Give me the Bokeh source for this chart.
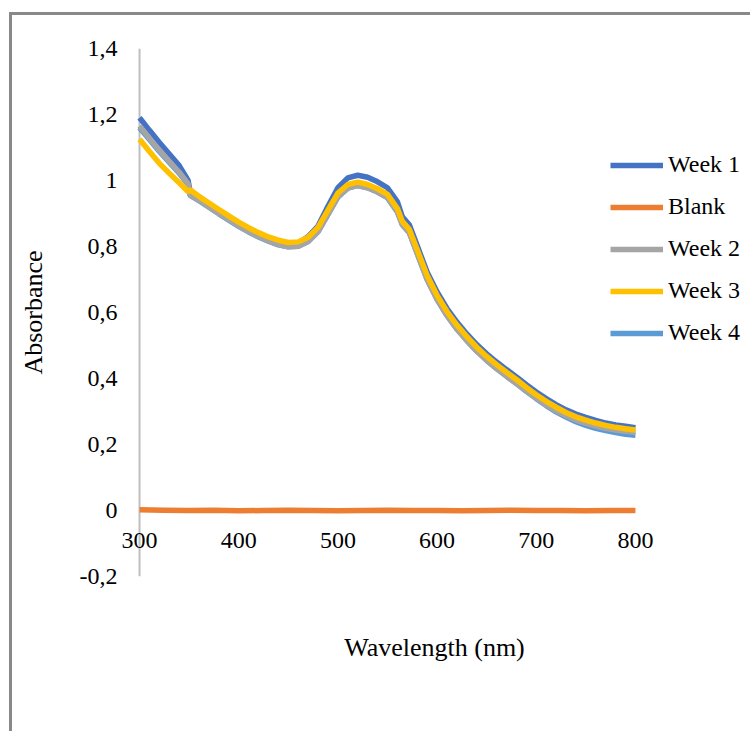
from bokeh.plotting import figure
from bokeh.models import (Range1d, FixedTicker, CustomJSTickFormatter, Legend, LegendItem,
                          Label, Span)
from bokeh.embed import file_html
from bokeh.resources import INLINE

# ---------------- data ----------------
wavelength = [300, 310, 320, 330, 340, 349, 351, 360, 370, 380, 390, 400, 410, 420, 430, 440,
              450, 460, 470, 480, 490, 500, 510, 520, 530, 540, 550, 560, 565, 572, 580, 590,
              600, 610, 620, 630, 640, 650, 660, 670, 680, 690, 700, 710, 720, 730, 740, 750,
              760, 770, 780, 790, 800]

week1 = [1.190, 1.152, 1.115, 1.080, 1.045, 1.000, 0.965, 0.948, 0.928, 0.908, 0.889, 0.870,
         0.853, 0.838, 0.825, 0.815, 0.808, 0.810, 0.830, 0.862, 0.922, 0.978, 1.008, 1.016,
         1.010, 0.996, 0.978, 0.935, 0.890, 0.866, 0.802, 0.722, 0.662, 0.612, 0.571, 0.535,
         0.503, 0.475, 0.450, 0.427, 0.405, 0.381, 0.359, 0.339, 0.321, 0.305, 0.292, 0.282,
         0.273, 0.265, 0.259, 0.255, 0.251]

week2 = [1.165, 1.128, 1.092, 1.058, 1.025, 0.990, 0.955, 0.940, 0.920, 0.900, 0.881, 0.862,
         0.845, 0.830, 0.817, 0.806, 0.799, 0.801, 0.815, 0.845, 0.897, 0.950, 0.977, 0.985,
         0.978, 0.965, 0.948, 0.905, 0.866, 0.842, 0.779, 0.700, 0.640, 0.591, 0.550, 0.515,
         0.483, 0.455, 0.430, 0.407, 0.385, 0.362, 0.340, 0.320, 0.302, 0.287, 0.274, 0.264,
         0.256, 0.249, 0.244, 0.240, 0.236]

week3 = [1.125, 1.088, 1.052, 1.022, 0.993, 0.966, 0.972, 0.952, 0.932, 0.912, 0.893, 0.874,
         0.857, 0.842, 0.829, 0.819, 0.812, 0.814, 0.828, 0.858, 0.910, 0.962, 0.988, 0.995,
         0.988, 0.975, 0.958, 0.915, 0.876, 0.852, 0.790, 0.712, 0.652, 0.603, 0.562, 0.527,
         0.495, 0.467, 0.442, 0.419, 0.397, 0.373, 0.351, 0.331, 0.313, 0.297, 0.284, 0.274,
         0.265, 0.258, 0.252, 0.248, 0.244]

week4 = [1.160, 1.124, 1.088, 1.055, 1.022, 0.988, 0.955, 0.939, 0.919, 0.899, 0.880, 0.861,
         0.844, 0.829, 0.816, 0.805, 0.799, 0.801, 0.815, 0.845, 0.897, 0.950, 0.977, 0.985,
         0.978, 0.965, 0.948, 0.905, 0.866, 0.842, 0.779, 0.700, 0.640, 0.591, 0.550, 0.515,
         0.483, 0.455, 0.430, 0.407, 0.385, 0.361, 0.339, 0.318, 0.299, 0.283, 0.269, 0.258,
         0.249, 0.242, 0.236, 0.231, 0.228]

blank_wavelength = [300, 325, 350, 375, 400, 425, 450, 475, 500, 525, 550, 575, 600, 625,
                    650, 675, 700, 725, 750, 775, 800]
blank = [0.002, 0.001, 0.000, 0.001, -0.001, 0.000, 0.001, 0.000, -0.001, 0.000, 0.001,
         0.000, 0.000, -0.001, 0.000, 0.001, 0.000, 0.000, -0.001, 0.000, 0.000]

x_ticks = [300, 400, 500, 600, 700, 800]
y_ticks = [-0.2, 0, 0.2, 0.4, 0.6, 0.8, 1.0, 1.2, 1.4]

series_names = ["Week 1", "Blank", "Week 2", "Week 3", "Week 4"]
colors = {"Week 1": "#4472C4", "Blank": "#ED7D31", "Week 2": "#A5A5A5",
          "Week 3": "#FFC000", "Week 4": "#5B9BD5"}

FONT = "Liberation Serif"
TICK_SIZE = "24px"
TITLE_SIZE = "26px"

# ---------------- figure ----------------
# the frame starts a little left of 300 nm so the "300" tick label is not cut
p = figure(width=750, height=731, output_backend="svg", toolbar_location=None,
           x_range=Range1d(278.8, 916), y_range=Range1d(-0.2, 1.4),
           min_border_left=118, min_border_right=0, min_border_top=48, min_border_bottom=155)
p.outline_line_color = None
p.background_fill_color = "white"
p.border_fill_alpha = 0
p.styles = {
    "background": ("linear-gradient(#898989, #898989) 9px 12px / 3px 2000px no-repeat, "
                   "linear-gradient(#898989, #898989) 9px 12px / 2000px 3px no-repeat, #FFFFFF")
}
p.xgrid.visible = False
p.ygrid.visible = False

# bottom axis only carries the axis title
xa = p.xaxis[0]
xa.ticker = FixedTicker(ticks=[])
xa.axis_line_color = None
xa.major_tick_line_color = None
xa.minor_tick_line_color = None
xa.axis_label = "Wavelength (nm)"
xa.axis_label_text_font = FONT
xa.axis_label_text_font_size = TITLE_SIZE
xa.axis_label_text_font_style = "normal"
xa.axis_label_text_color = "black"
xa.axis_label_standoff = 56

# x tick labels sit just under the y = 0 line
for t in x_ticks:
    p.add_layout(Label(x=t, y=0, y_offset=-30, text=str(t), text_align="center",
                       text_baseline="middle", text_font=FONT, text_font_size=TICK_SIZE,
                       text_color="black"))

# vertical value axis crossing at 300 nm
p.add_layout(Span(location=x_ticks[0], dimension="height", line_color="#BFBFBF",
                  line_width=2, level="underlay"))

ya = p.yaxis[0]
ya.ticker = FixedTicker(ticks=y_ticks)
ya.formatter = CustomJSTickFormatter(
    code="return (Math.round(tick*10)/10).toString().replace('.', ',');")
ya.axis_line_color = None
ya.major_tick_line_color = None
ya.minor_tick_line_color = None
ya.major_label_standoff = -5
ya.major_label_text_font = FONT
ya.major_label_text_font_size = TICK_SIZE
ya.major_label_text_color = "black"
ya.axis_label = "Absorbance"
ya.axis_label_text_font = FONT
ya.axis_label_text_font_size = TITLE_SIZE
ya.axis_label_text_font_style = "normal"
ya.axis_label_text_color = "black"
ya.axis_label_standoff = 29

LW = 5.5
r4 = p.line(wavelength, week4, line_color=colors["Week 4"], line_width=LW)
r1 = p.line(wavelength, week1, line_color=colors["Week 1"], line_width=LW)
rb = p.line(blank_wavelength, blank, line_color=colors["Blank"], line_width=LW)
r2 = p.line(wavelength, week2, line_color=colors["Week 2"], line_width=LW)
r3 = p.line(wavelength, week3, line_color=colors["Week 3"], line_width=LW)

renderers = {"Week 1": r1, "Blank": rb, "Week 2": r2, "Week 3": r3, "Week 4": r4}
items = [LegendItem(label=n, renderers=[renderers[n]]) for n in series_names]
legend = Legend(items=items, location=(492, 230), orientation="vertical",
                label_text_font=FONT, label_text_font_size=TICK_SIZE, label_text_color="black",
                glyph_width=53, glyph_height=24, label_height=24, label_standoff=5,
                spacing=15, padding=0, margin=0,
                border_line_color=None, background_fill_alpha=0)
p.add_layout(legend)

open("out.html", "w").write(file_html(p, INLINE))
